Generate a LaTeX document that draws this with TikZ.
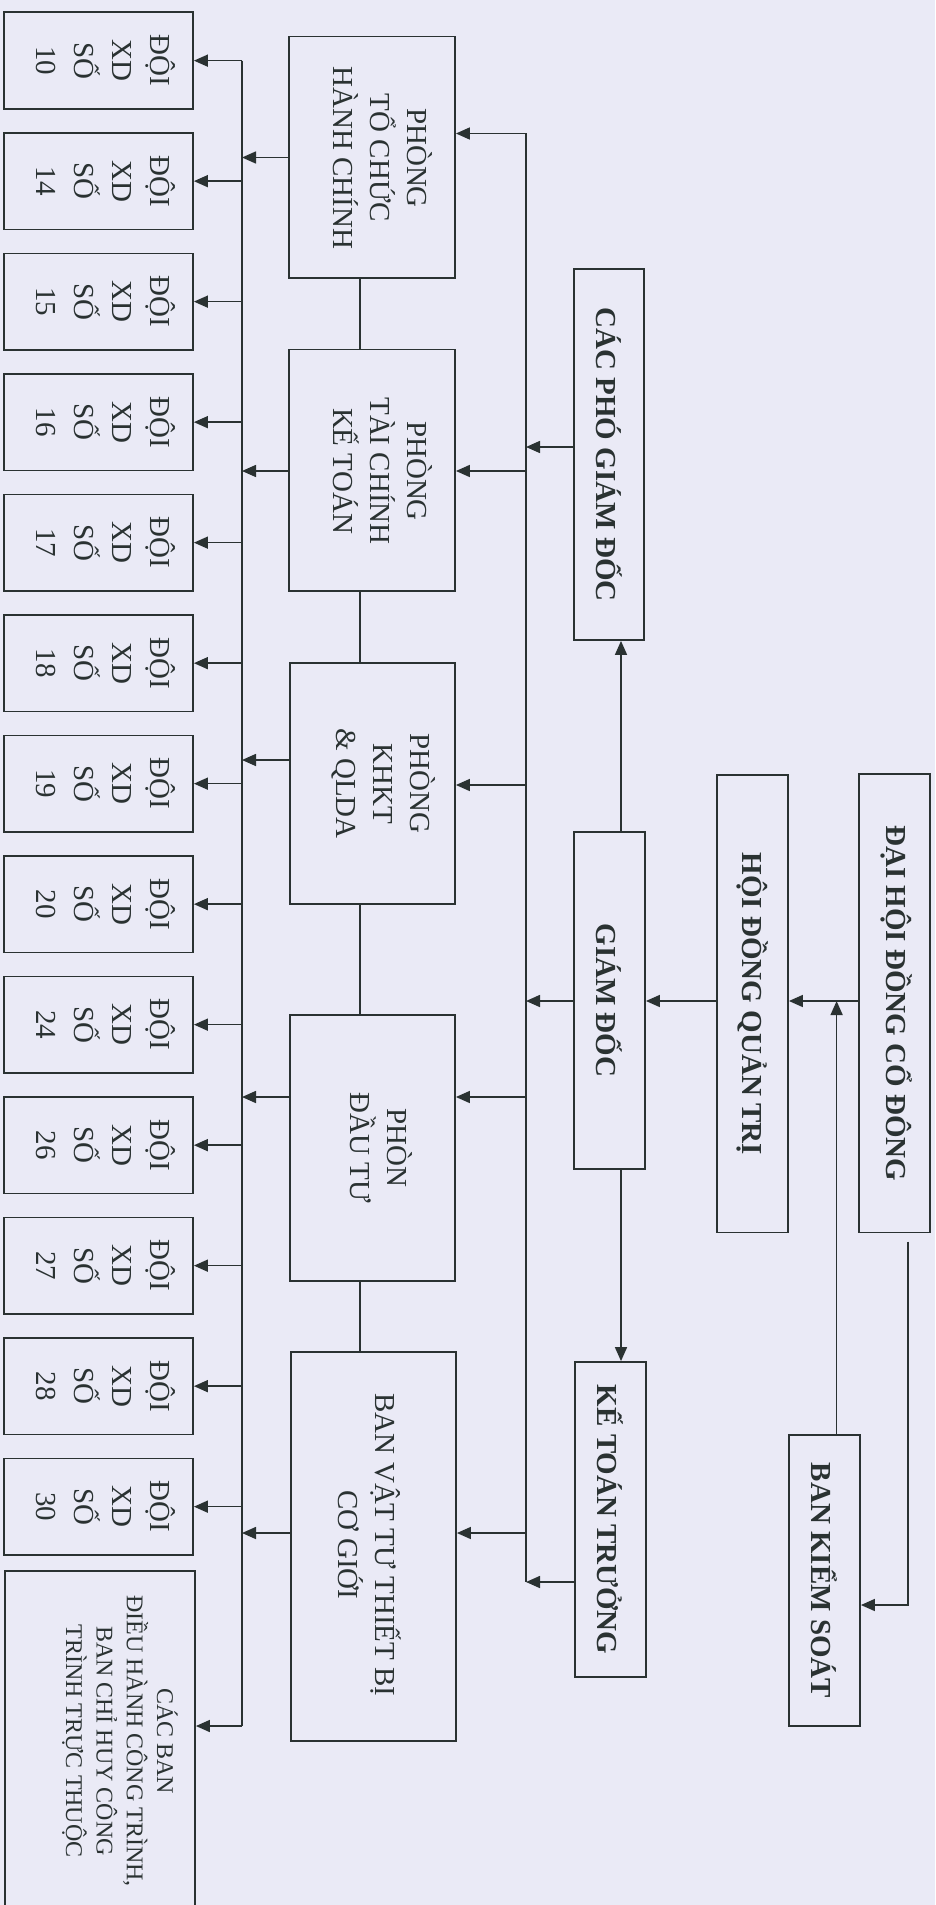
\documentclass[tikz,border=0pt]{standalone}
\usepackage{fontspec}
\setmainfont{Liberation Serif}
\usetikzlibrary{arrows.meta,fit}
\definecolor{paper}{RGB}{234,234,246}
\definecolor{ink}{RGB}{42,50,50}

\begin{document}
\begin{tikzpicture}[x=1pt,y=-1pt,
  box/.style={draw=ink, line width=1.8pt, inner sep=0pt},
  conn/.style={draw=ink, line width=1.6pt},
  arr/.style={conn, -{Triangle[length=14pt,width=12pt]}},
  txt/.style={rotate=-90, align=center, text=ink, inner sep=0pt,
    font=\fontsize{29}{37}\selectfont},
  btxt/.style={txt, font=\fontsize{29}{37}\selectfont\bfseries},
  dtxt/.style={txt, font=\fontsize{29}{38}\selectfont},
  stxt/.style={txt, font=\fontsize{24}{30.3}\selectfont},
]
% paper and frame
\fill[paper] (0,0) rectangle (935,1905);
\useasboundingbox (0,0) rectangle (935,1905);
\clip (0,0) rectangle (935,1905);

% bus lines and levels
\coordinate (L) at (242,0);
\coordinate (R) at (526,0);
\coordinate (V) at (360,0);
\coordinate (G) at (621,0);
\coordinate (B) at (836.6,0);
\coordinate (lvl) at (0,1001);

% construction teams
\foreach \n [count=\i from 0] in {10,14,15,16,17,18,19,20,24,26,27,28,30} {
  \pgfmathsetmacro{\ya}{12.4+120.5*\i}
  \pgfmathsetmacro{\yb}{\ya+96.5}
  \node[box, fit={(4,\ya) (193,\yb)}] (d\n) {};
  \node[dtxt] (d\n-t) at ([xshift=7pt]d\n.center) {ĐỘI\\XD\\SỐ\\\n};
  \draw[arr] (L |- d\n.east) -- (d\n.east);
}
\node[box, fit={(5,1571) (195,1930)}] (cacban) {};
\node[stxt] (cacban-t) at (120,1741)
  {CÁC BAN\\ĐIỀU HÀNH CÔNG TRÌNH,\\BAN CHỈ HUY CÔNG\\TRÌNH TRỰC THUỘC};
\coordinate (Lbot) at (242,1726);
\draw[arr] (Lbot) -- (cacban.east |- Lbot);
\draw[conn] (L |- d10.east) -- (Lbot);

% departments
\node[box, fit={(289,36.5) (455,278)}] (tchc) {};
\node[box, fit={(289,349.5) (455,591)}] (tckt) {};
\node[box, fit={(290,663) (455,904)}] (khkt) {};
\node[box, fit={(290,1015) (455,1281)}] (dautu) {};
\node[box, fit={(291,1352) (456,1741)}] (vattu) {};
\node[txt] (tchc-t) at (383,158) {PHÒNG\\TỔ CHỨC\\HÀNH CHÍNH};
\node[txt] (tckt-t) at (383,471) {PHÒNG\\TÀI CHÍNH\\KẾ TOÁN};
\node[txt] (khkt-t) at (384,783.5) {PHÒNG\\KHKT\\\& QLDA};
\node[txt] (dautu-t) at (381,1148) {PHÒN\\ĐẦU TƯ};
\node[txt] (vattu-t) at (370,1545) {BAN VẬT TƯ THIẾT BỊ\\CƠ GIỚI};

\draw[conn] (V |- tchc.south) -- (V |- tckt.north);
\draw[conn] (V |- tckt.south) -- (V |- khkt.north);
\draw[conn] (V |- khkt.south) -- (V |- dautu.north);
\draw[conn] (V |- dautu.south) -- (V |- vattu.north);

% department outputs to the team bus
\coordinate (o1) at (0,157.5);
\coordinate (o2) at (0,471);
\coordinate (o3) at (0,760);
\coordinate (o4) at (0,1097);
\coordinate (o5) at (0,1533);
\draw[arr] (tchc.west |- o1) -- (L |- o1);
\draw[arr] (tckt.west |- o2) -- (L |- o2);
\draw[arr] (khkt.west |- o3) -- (L |- o3);
\draw[arr] (dautu.west |- o4) -- (L |- o4);
\draw[arr] (vattu.west |- o5) -- (L |- o5);

% management bus into departments
\coordinate (i1) at (0,133.5);
\coordinate (i2) at (0,471);
\coordinate (i3) at (0,785);
\coordinate (i4) at (0,1097);
\coordinate (i5) at (0,1533);
\coordinate (Rbot) at (526,1582);
\draw[conn] (R |- i1) -- (Rbot);
\draw[arr] (R |- i1) -- (tchc.east |- i1);
\draw[arr] (R |- i2) -- (tckt.east |- i2);
\draw[arr] (R |- i3) -- (khkt.east |- i3);
\draw[arr] (R |- i4) -- (dautu.east |- i4);
\draw[arr] (R |- i5) -- (vattu.east |- i5);

% management
\node[box, fit={(574,269) (644,640)}] (pgd) {};
\node[box, fit={(574,832) (645,1169)}] (gd) {};
\node[box, fit={(575,1362) (646,1677)}] (ktt) {};
\node[box, fit={(717,775) (788,1232.5)}] (hdqt) {};
\node[box, fit={(859,774) (930,1232.5)}] (dhd) {};
\node[box, fit={(789,1435) (860,1726)}] (bks) {};
\node[btxt] (pgd-t) at (pgd.center) {CÁC PHÓ GIÁM ĐỐC};
\node[btxt] (gd-t) at (gd.center) {GIÁM ĐỐC};
\node[btxt] (ktt-t) at (ktt.center) {KẾ TOÁN TRƯỞNG};
\node[btxt] (hdqt-t) at (hdqt.center) {HỘI ĐỒNG QUẢN TRỊ};
\node[btxt] (dhd-t) at ([xshift=2pt]dhd.center) {ĐẠI HỘI ĐỒNG CỔ ĐÔNG};
\node[btxt] (bks-t) at (bks.center) {BAN KIỂM SOÁT};

\coordinate (p1) at (0,447);
\draw[arr] (pgd.west |- p1) -- (R |- p1);
\draw[arr] (gd.west |- lvl) -- (R |- lvl);
\draw[arr] (ktt.west |- Rbot) -- (Rbot);
\draw[arr] (G |- gd.north) -- (G |- pgd.south);
\draw[arr] (G |- gd.south) -- (G |- ktt.north);
\draw[arr] (hdqt.west |- lvl) -- (gd.east |- lvl);
\draw[arr] (dhd.west |- lvl) -- (hdqt.east |- lvl);
\draw[arr] (B |- bks.north) -- (B |- lvl);
\coordinate (dStart) at (907.7,1241.7);
\coordinate (dTurn) at (907.7,1605);
\draw[arr] (dStart) -- (dTurn) -- (bks.east |- dTurn);
\end{tikzpicture}
\end{document}
